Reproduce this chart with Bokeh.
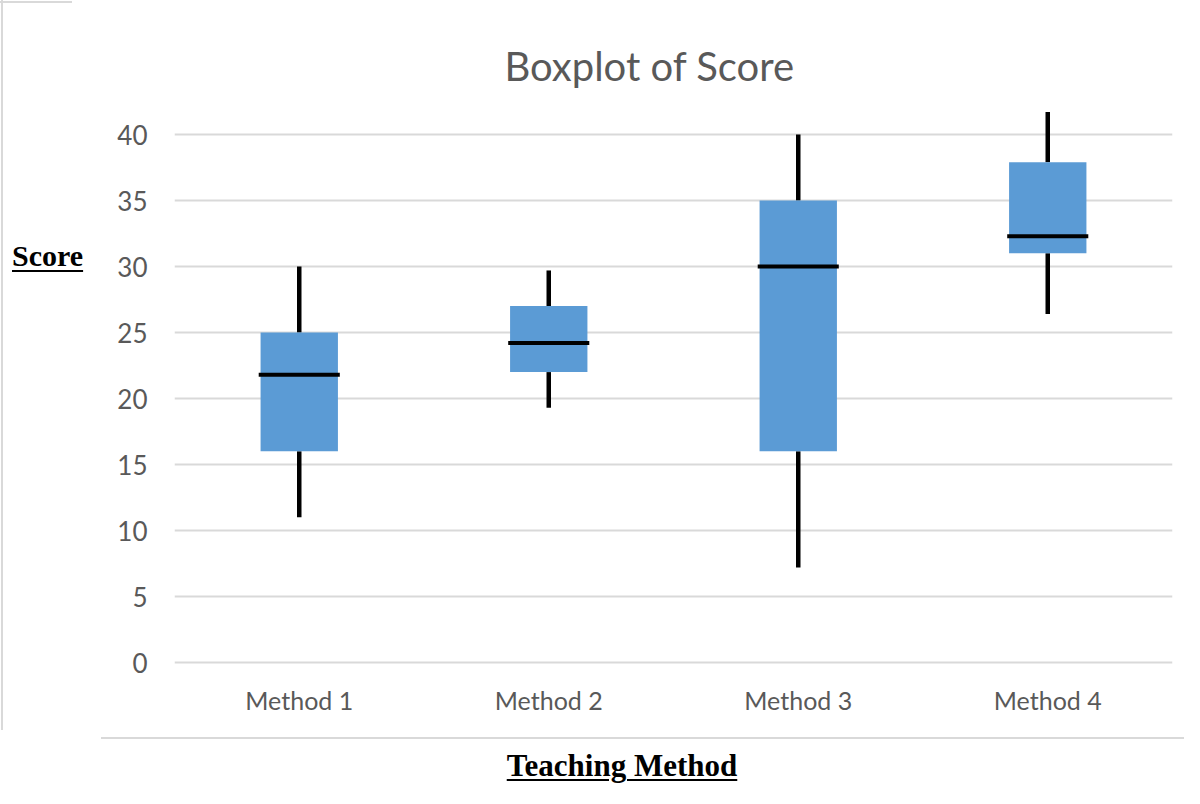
from bokeh.plotting import figure
from bokeh.models import Range1d, FixedTicker, ColumnDataSource, Div
from bokeh.layouts import column, row
from bokeh.embed import file_html
from bokeh.resources import INLINE

methods = ["Method 1", "Method 2", "Method 3", "Method 4"]
lower_whisker = [11.0, 19.3, 7.2, 26.4]
q1 = [16.0, 22.0, 16.0, 31.0]
median = [21.8, 24.2, 30.0, 32.3]
q3 = [25.0, 27.0, 35.0, 37.9]
upper_whisker = [30.0, 29.7, 40.0, 41.7]
y_ticks = [0, 5, 10, 15, 20, 25, 30, 35, 40]

TOTAL_W, TOTAL_H = 1184, 788
LEFT_W = 100          # width of the column holding the "Score" label
PLOT_H = 736
p = figure(x_range=methods, y_range=Range1d(-0.53, 42.5), width=TOTAL_W - LEFT_W, height=PLOT_H,
           output_backend="svg", toolbar_location=None,
           min_border_left=74, min_border_right=12, min_border_top=101, min_border_bottom=67,
           margin=0)
p.outline_line_color = None
p.background_fill_color = "white"
p.border_fill_color = "white"

p.title.text = "Boxplot of Score"
p.title.align = "left"
p.title.offset = 330
p.title.text_font = "Lato"
p.title.text_font_size = "40px"
p.title.text_font_style = "normal"
p.title.text_color = "#595959"
p.title.standoff = 24

src = ColumnDataSource(dict(x=methods, lo=lower_whisker, q1=q1, med=median, q3=q3, hi=upper_whisker))

p.segment(x0="x", y0="q3", x1="x", y1="hi", source=src, line_color="black", line_width=4.5)
p.segment(x0="x", y0="lo", x1="x", y1="q1", source=src, line_color="black", line_width=4.5)
p.vbar(x="x", bottom="q1", top="q3", width=0.31, source=src, fill_color="#5b9bd5", line_color=None)
p.rect(x="x", y="med", width=0.325, height=4, height_units="screen", source=src,
       fill_color="black", line_color=None)

for ax in (p.xaxis, p.yaxis):
    ax.axis_line_color = None
    ax.major_tick_line_color = None
    ax.minor_tick_line_color = None
    ax.major_label_text_color = "#595959"
    ax.major_label_text_font = "Lato"
p.yaxis.ticker = FixedTicker(ticks=y_ticks)
p.yaxis.major_label_standoff = 21
p.yaxis.major_label_text_font_size = "26px"
p.xaxis.major_label_standoff = 9
p.xaxis.major_label_text_font_size = "25px"

p.xgrid.grid_line_color = None
p.ygrid.ticker = FixedTicker(ticks=y_ticks)
p.ygrid.grid_line_color = "#d9d9d9"
p.ygrid.grid_line_width = 2

label_css = ("font-family:'Liberation Serif',serif; font-weight:bold; "
             "color:black; text-decoration:underline; "
             "text-decoration-thickness:2px; white-space:nowrap;")

score_div = Div(
    text=('<div style="position:relative; width:100px; height:736px;">'
          '<div style="position:absolute; left:1px; top:0px; width:2px; height:730px; background:#d9d9d9;"></div>'
          '<div style="position:absolute; left:0px; top:1px; width:72px; height:2px; background:#d9d9d9;"></div>'
          f'<div style="position:absolute; left:12px; top:241px; font-size:30px; line-height:30px; {label_css} '
          'text-underline-offset:4px;">Score</div></div>'),
    width=LEFT_W, height=PLOT_H, margin=0)

bottom_div = Div(
    text=('<div style="margin:1px 0 0 101px; width:1083px; border-top:2px solid #d9d9d9;"></div>'
          f'<div style="margin:12px 0 0 322px; width:600px; text-align:center; font-size:31px; '
          f'line-height:30px; {label_css} text-underline-offset:3px;">Teaching Method</div>'),
    width=TOTAL_W, height=TOTAL_H - PLOT_H, margin=0)

layout = column(row(score_div, p, margin=0, spacing=0), bottom_div, margin=0, spacing=0)

open("out.html", "w").write(file_html(layout, INLINE))
